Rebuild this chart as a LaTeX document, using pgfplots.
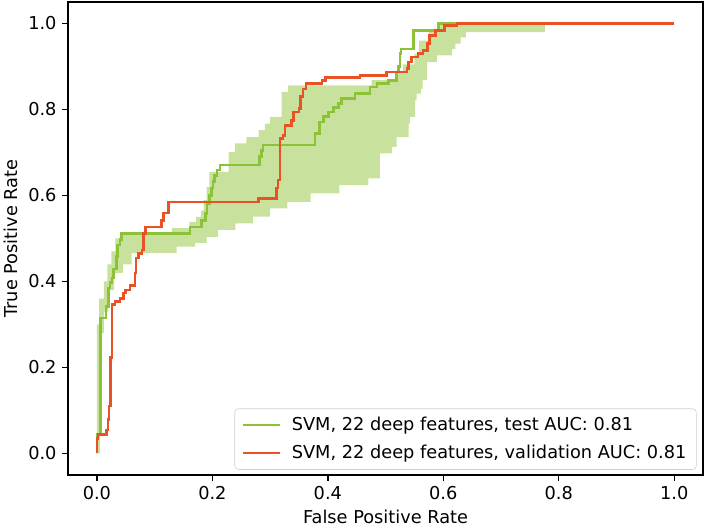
\documentclass[border=0pt]{standalone}
\usepackage{fontspec}
\setmainfont{DejaVu Sans}
\usepackage{pgfplots}
\pgfplotsset{compat=1.18}
\definecolor{testgreen}{RGB}{140,194,54}
\definecolor{valred}{RGB}{232,82,36}
\definecolor{bandgreen}{RGB}{200,226,158}
\begin{document}
\begin{tikzpicture}
\path[use as bounding box] (-44.3bp,-35.2bp) rectangle (416.6bp,309.2bp);
\begin{axis}[
  at={(0,0)}, anchor=south west,
  scale only axis, width=413.4bp, height=307.9bp,
  xmin=-0.05, xmax=1.05, ymin=-0.05, ymax=1.05,
  xtick={0,0.2,0.4,0.6,0.8,1.0}, ytick={0,0.2,0.4,0.6,0.8,1.0},
  /pgf/number format/fixed, /pgf/number format/fixed zerofill,
  /pgf/number format/precision=1, /pgf/number format/assume math mode=true,
  tick label style={font=\fontsize{11.6}{14}\selectfont},
  label style={font=\fontsize{11.6}{14}\selectfont},
  tick align=outside, major tick length=4bp,
  xtick pos=bottom, ytick pos=left,
  tick style={black, line width=0.9bp},
  axis line style={line width=0.9bp},
  xlabel={False Positive Rate}, ylabel={True Positive Rate},
  legend style={at={(0.99,0.011)}, anchor=south east, draw=black!18, rounded corners=2.5bp,
    fill=white, font=\fontsize{11.6}{14}\selectfont, inner xsep=4.5bp, inner ysep=3.5bp, row sep=4bp},
  legend cell align=left,
  legend image code/.code={\draw[#1, line width=1.7bp] (0bp,0bp) -- (24bp,0bp); \path (29bp,0bp);},
]
\addplot[fill=bandgreen, draw=none, forget plot] coordinates {
(0,0) (0,0.30) (0.004,0.30) (0.004,0.36) (0.012,0.36) (0.012,0.40) (0.018,0.40) (0.018,0.44)
(0.025,0.44) (0.025,0.47) (0.032,0.47) (0.032,0.50) (0.040,0.50) (0.040,0.512) (0.13,0.512)
(0.13,0.524) (0.16,0.524) (0.16,0.538) (0.172,0.538) (0.172,0.55) (0.18,0.55) (0.18,0.565)
(0.185,0.565) (0.185,0.59) (0.19,0.59) (0.19,0.62) (0.195,0.62) (0.195,0.655) (0.228,0.655)
(0.228,0.701) (0.239,0.701) (0.239,0.721) (0.259,0.721) (0.259,0.736) (0.28,0.736) (0.28,0.752)
(0.291,0.752) (0.291,0.767) (0.30,0.767) (0.30,0.783) (0.32,0.783) (0.32,0.841) (0.331,0.841)
(0.331,0.856) (0.476,0.856) (0.476,0.868) (0.52,0.868) (0.52,0.885) (0.53,0.885) (0.53,0.905)
(0.55,0.905) (0.55,0.93) (0.558,0.93) (0.558,0.96) (0.575,0.96) (0.575,0.98) (0.59,0.98)
(0.59,1.0) (0.776,1.0)
(0.776,0.98) (0.639,0.98) (0.639,0.968) (0.63,0.968) (0.63,0.953) (0.621,0.953) (0.621,0.941)
(0.615,0.941) (0.615,0.926) (0.589,0.926) (0.589,0.91) (0.572,0.91) (0.572,0.868) (0.564,0.868)
(0.564,0.848) (0.561,0.848) (0.561,0.837) (0.554,0.837) (0.554,0.821) (0.551,0.821) (0.551,0.783)
(0.542,0.783) (0.542,0.767) (0.54,0.767) (0.54,0.736) (0.519,0.736) (0.519,0.713) (0.511,0.713)
(0.511,0.698) (0.49,0.698) (0.49,0.64) (0.47,0.64) (0.47,0.624) (0.42,0.624) (0.42,0.605)
(0.37,0.605) (0.37,0.585) (0.33,0.585) (0.33,0.57) (0.30,0.57) (0.30,0.551) (0.27,0.551)
(0.27,0.535) (0.24,0.535) (0.24,0.52) (0.21,0.52) (0.21,0.504) (0.19,0.504) (0.19,0.49)
(0.17,0.49) (0.17,0.481) (0.138,0.481) (0.138,0.466) (0.060,0.466) (0.060,0.44) (0.045,0.44)
(0.045,0.42) (0.030,0.42) (0.030,0.38) (0.020,0.38) (0.020,0.33) (0.012,0.33) (0.012,0.28)
(0.005,0.28) (0.005,0.0)
};
\addplot[testgreen, line width=1.7bp] coordinates {
(0,0) (0,0.044) (0.006,0.044) (0.006,0.315) (0.016,0.315) (0.016,0.342) (0.020,0.342)
(0.020,0.385) (0.023,0.385) (0.023,0.397) (0.026,0.397) (0.026,0.408) (0.029,0.408)
(0.029,0.429) (0.034,0.429) (0.034,0.458) (0.036,0.458) (0.036,0.485) (0.040,0.485)
(0.040,0.497) (0.043,0.497) (0.043,0.512) (0.161,0.512) (0.161,0.527) (0.181,0.527)
(0.181,0.542) (0.188,0.542) (0.188,0.558) (0.191,0.558) (0.191,0.582) (0.195,0.582)
(0.195,0.60) (0.198,0.60) (0.198,0.617) (0.201,0.617) (0.201,0.632) (0.204,0.632)
(0.204,0.647) (0.208,0.647) (0.208,0.659) (0.213,0.659) (0.213,0.671) (0.282,0.671)
(0.282,0.69) (0.285,0.69) (0.285,0.705) (0.288,0.705) (0.288,0.717) (0.378,0.717)
(0.378,0.744) (0.386,0.744) (0.386,0.771) (0.392,0.771) (0.392,0.783) (0.401,0.783)
(0.401,0.794) (0.41,0.794) (0.41,0.804) (0.418,0.804) (0.418,0.814) (0.424,0.814)
(0.424,0.826) (0.447,0.826) (0.447,0.837) (0.473,0.837) (0.473,0.852) (0.485,0.852)
(0.485,0.86) (0.505,0.86) (0.505,0.868) (0.519,0.868) (0.519,0.887) (0.522,0.887)
(0.522,0.90) (0.525,0.90) (0.525,0.93) (0.527,0.93) (0.527,0.941) (0.548,0.941)
(0.548,0.984) (0.592,0.984) (0.592,1.0) (1.0,1.0)
};
\addlegendentry{SVM, 22 deep features, test AUC: 0.81}
\addplot[valred, line width=1.7bp] coordinates {
(0,0) (0,0.035) (0.002,0.035) (0.002,0.044) (0.017,0.044) (0.017,0.055) (0.019,0.055)
(0.019,0.079) (0.021,0.079) (0.021,0.11) (0.024,0.11) (0.024,0.223) (0.026,0.223)
(0.026,0.346) (0.031,0.346) (0.031,0.353) (0.04,0.353) (0.04,0.361) (0.046,0.361)
(0.046,0.373) (0.05,0.373) (0.05,0.38) (0.057,0.38) (0.057,0.39) (0.066,0.39) (0.066,0.42)
(0.068,0.42) (0.068,0.455) (0.072,0.455) (0.072,0.465) (0.078,0.465) (0.078,0.473)
(0.081,0.473) (0.081,0.512) (0.084,0.512) (0.084,0.527) (0.112,0.527) (0.112,0.542)
(0.115,0.542) (0.115,0.559) (0.124,0.559) (0.124,0.585) (0.28,0.585) (0.28,0.593)
(0.311,0.593) (0.311,0.617) (0.314,0.617) (0.314,0.636) (0.317,0.636) (0.317,0.732)
(0.322,0.732) (0.322,0.74) (0.326,0.74) (0.326,0.763) (0.337,0.763) (0.337,0.775)
(0.34,0.775) (0.34,0.794) (0.35,0.794) (0.35,0.802) (0.353,0.802) (0.353,0.83)
(0.357,0.83) (0.357,0.848) (0.362,0.848) (0.362,0.86) (0.39,0.86) (0.39,0.868)
(0.396,0.868) (0.396,0.875) (0.456,0.875) (0.456,0.879) (0.502,0.879) (0.502,0.887)
(0.537,0.887) (0.537,0.895) (0.54,0.895) (0.54,0.91) (0.545,0.91) (0.545,0.922)
(0.556,0.922) (0.556,0.93) (0.565,0.93) (0.565,0.937) (0.573,0.937) (0.573,0.953)
(0.576,0.953) (0.576,0.972) (0.586,0.972) (0.586,0.984) (0.602,0.984) (0.602,0.995)
(0.624,0.995) (0.624,1.0) (1.0,1.0)
};
\addlegendentry{SVM, 22 deep features, validation AUC: 0.81}
\end{axis}
\end{tikzpicture}
\end{document}
